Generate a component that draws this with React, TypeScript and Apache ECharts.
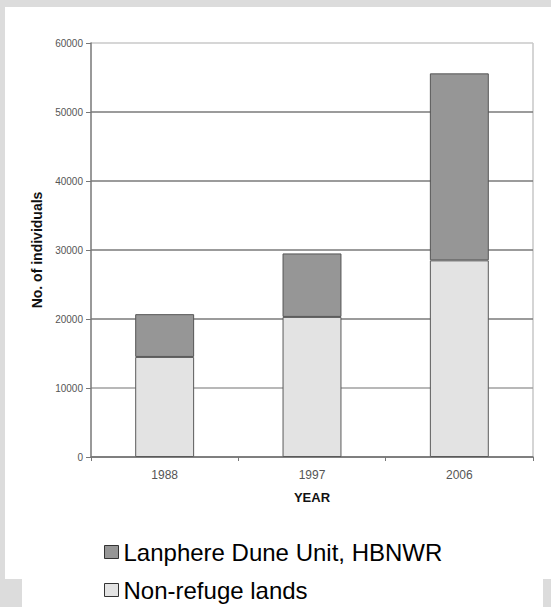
import React, { useEffect, useRef } from "react";
import * as echarts from "echarts";

const years = ["1988", "1997", "2006"];
const nonRefuge = [14500, 20300, 28500];
const lanphere = [6200, 9200, 27100];
const seriesNames = ["Lanphere Dune Unit, HBNWR", "Non-refuge lands"];
const yTicks = { min: 0, max: 60000, interval: 10000 };

const FONT = "'Liberation Sans', Arial, sans-serif";

export default function App() {
  const ref = useRef<HTMLDivElement>(null);
  useEffect(() => {
    document.body.style.margin = "0";
    const chart = echarts.init(ref.current!, undefined, { renderer: "svg" });
    const gray = "#dcdcdc";
    chart.setOption({
      animation: false,
      backgroundColor: "#ffffff",
      graphic: [
        { type: "rect", shape: { x: 0, y: 0, width: 551, height: 7 }, style: { fill: gray }, silent: true },
        { type: "rect", shape: { x: 0, y: 0, width: 5, height: 607 }, style: { fill: gray }, silent: true },
        { type: "rect", shape: { x: 0, y: 579, width: 22, height: 28 }, style: { fill: gray }, silent: true },
        { type: "rect", shape: { x: 543, y: 579, width: 8, height: 28 }, style: { fill: gray }, silent: true },
        { type: "rect", shape: { x: 533, y: 43, width: 0, height: 414 }, style: { stroke: "#c8c8c8", lineWidth: 1.5, fill: "none" }, silent: true },
      ],
      grid: { left: 91, right: 18, top: 43, bottom: 150 },
      legend: {
        orient: "vertical",
        left: 104,
        top: 540,
        padding: 0,
        data: seriesNames,
        itemWidth: 14,
        itemHeight: 13,
        itemGap: 14,
        icon: "rect",
        textStyle: { fontFamily: FONT, fontSize: 24, color: "#000", lineHeight: 24 },
        itemStyle: { borderColor: "#333", borderWidth: 1 },
      },
      xAxis: {
        type: "category",
        data: years,
        name: "YEAR",
        nameLocation: "middle",
        nameGap: 34,
        nameTextStyle: { fontFamily: FONT, fontSize: 13, fontWeight: "bold", color: "#111" },
        axisLine: { lineStyle: { color: "#777", width: 1.5 } },
        axisTick: { show: true, length: 4, alignWithLabel: false, lineStyle: { color: "#777" } },
        axisLabel: { fontFamily: FONT, fontSize: 12, color: "#555", margin: 12 },
      },
      yAxis: {
        type: "value",
        min: yTicks.min,
        max: yTicks.max,
        interval: yTicks.interval,
        name: "No. of individuals",
        nameLocation: "middle",
        nameGap: 40,
        nameTextStyle: { fontFamily: FONT, fontSize: 14, fontWeight: "bold", color: "#111" },
        axisLine: { show: true, lineStyle: { color: "#777", width: 1.5 } },
        axisTick: { show: true, length: 5, lineStyle: { color: "#777" } },
        axisLabel: { fontFamily: FONT, fontSize: 10, color: "#555", margin: 8, formatter: (v: number) => String(v) },
        splitLine: {
          show: true,
          lineStyle: {
            color: ["#777", "#a0a0a0", "#7a7a7a", "#7a7a7a", "#7a7a7a", "#7a7a7a", "#c8c8c8"],
            width: 1.5,
          },
        },
      },
      series: [
        {
          name: seriesNames[1],
          type: "bar",
          stack: "total",
          data: nonRefuge,
          barWidth: "40%",
          itemStyle: { color: "#e3e3e3", borderColor: "#5a5a5a", borderWidth: 1 },
        },
        {
          name: seriesNames[0],
          type: "bar",
          stack: "total",
          data: lanphere,
          barWidth: "40%",
          itemStyle: { color: "#969696", borderColor: "#555", borderWidth: 1 },
        },
      ],
    });
    return () => chart.dispose();
  }, []);
  return <div ref={ref} style={{ width: 551, height: 607 }} />;
}
